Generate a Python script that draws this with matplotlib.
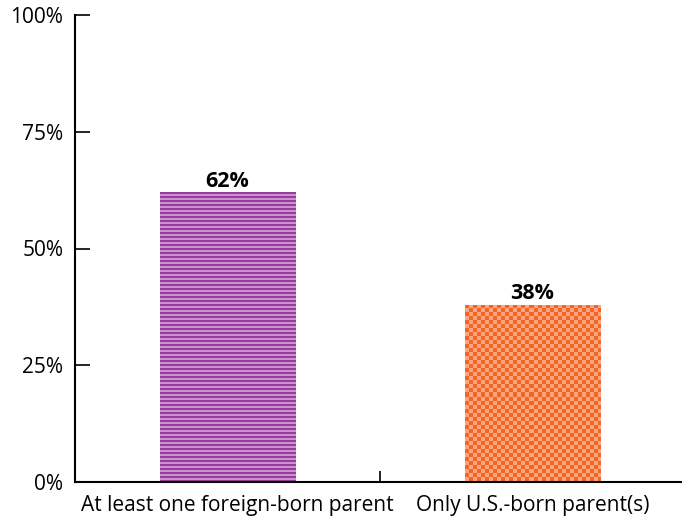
import matplotlib
matplotlib.use('Agg')
import matplotlib.pyplot as plt
import matplotlib.transforms as mtransforms
import numpy as np
from matplotlib.colors import to_rgb

categories = ["At least one foreign-born parent", "Only U.S.-born parent(s)"]
values = [62, 38]
value_labels = ["62%", "38%"]
yticks = [0, 25, 50, 75, 100]
ytick_labels = ["0%", "25%", "50%", "75%", "100%"]

plt.rcParams['font.family'] = ['Open Sans', 'DejaVu Sans']

W, H = 682, 518
fig = plt.figure(figsize=(W / 100, H / 100), dpi=100)
ax = fig.add_axes([74.5 / W, 36 / H, 1 - 74.5 / W, 467 / H])

x = np.arange(len(categories))
bars = ax.bar(x, values, width=0.443, color='none', linewidth=0)
ax.set_xlim(-0.5016, 1.49)
ax.set_ylim(0, 100)


def stripes(h, w, c1, c2, half=2):
    rows = np.arange(h)
    mask = ((rows // half) % 2 == 0)[:, None]
    mask = np.broadcast_to(mask, (h, w))
    return np.where(mask[..., None], np.array(to_rgb(c1)), np.array(to_rgb(c2)))


def checker(h, w, c1, c2, size=4):
    r = np.arange(h)[:, None] // size
    c = np.arange(w)[None, :] // size
    mask = (r + c) % 2 == 0
    return np.where(mask[..., None], np.array(to_rgb(c1)), np.array(to_rgb(c2)))


fig.canvas.draw()
makers = [lambda h, w: stripes(h, w, '#9a3c9e', '#c992cf'),
          lambda h, w: checker(h, w, '#f26522', '#f9a680')]
for bar, mk in zip(bars, makers):
    bb = bar.get_window_extent()
    hpx = max(1, int(round(bb.height)))
    wpx = max(1, int(round(bb.width)))
    img = mk(hpx, wpx)
    im = ax.imshow(img, extent=(bar.get_x(), bar.get_x() + bar.get_width(), 0, bar.get_height()),
                   aspect='auto', interpolation='nearest', zorder=2)
    im.set_clip_path(bar)

ax.set_xlim(-0.5016, 1.49)
ax.set_ylim(0, 100)

for bar, lab in zip(bars, value_labels):
    ax.annotate(lab, (bar.get_x() + bar.get_width() / 2, bar.get_height()),
                xytext=(0, 4), textcoords='offset points', ha='center', va='baseline',
                fontsize=15.5, fontweight='bold', color='black')

ax.set_xticks(x)
ax.set_xticklabels(categories)
ax.set_xticks([0.5], minor=True)
ax.set_yticks(yticks)
ax.set_yticklabels(ytick_labels)

ax.tick_params(axis='x', which='major', length=0, pad=9.5, labelsize=15)
ax.tick_params(axis='x', which='minor', direction='in', length=8, width=1.2)
ax.tick_params(axis='y', direction='in', length=10.8, width=1.2, pad=8, labelsize=15)

# the first category label sits slightly right of its bar in the original
first = ax.get_xticklabels()[0]
first.set_transform(first.get_transform() + mtransforms.ScaledTranslation(10 / 100, 0, fig.dpi_scale_trans))

for s in ['top', 'right']:
    ax.spines[s].set_visible(False)
for s in ['left', 'bottom']:
    ax.spines[s].set_linewidth(1.5)
    ax.spines[s].set_color('black')

fig.savefig('out.png', dpi=100)
